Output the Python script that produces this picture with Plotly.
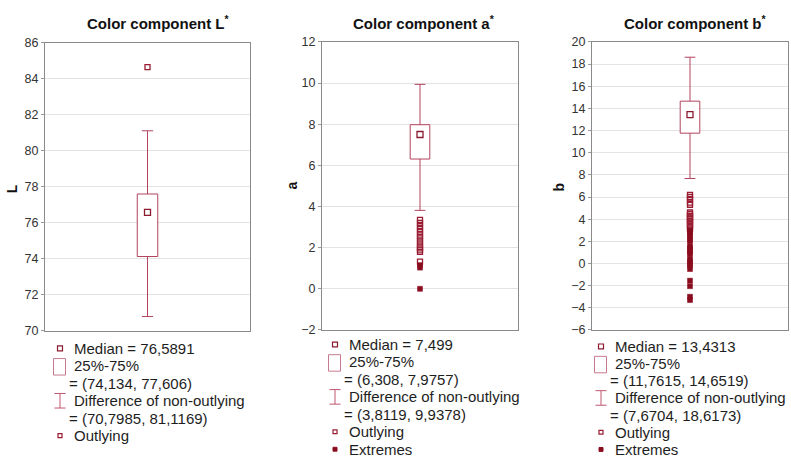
import plotly.graph_objects as go

# ---------------- data ----------------
components = ["L", "a", "b"]
titles = ["Color component L<sup>*</sup>", "Color component a<sup>*</sup>", "Color component b<sup>*</sup>"]
medians = [76.5891, 7.499, 13.4313]
q1 = [74.134, 6.308, 11.7615]
q3 = [77.606, 7.9757, 14.6519]
whisker_low = [70.7985, 3.8119, 7.6704]
whisker_high = [81.1169, 9.9378, 18.6173]

outliers_L = [84.65]
extremes_L = []
outliers_a = [3.35, 3.2, 3.05, 2.9, 2.75, 2.6, 2.45, 2.3, 2.15, 2.0, 1.9, 1.8, 1.32]
extremes_a = [1.15, 1.03, 0.0]
outliers_b = [6.2, 6.0, 5.8, 5.5, 5.3, 4.6, 4.45, 4.3, 4.15, 4.0, 3.85, 3.7, 3.5, 3.3, 3.15]
extremes_b = [3.0, 2.85, 2.7, 2.5, 2.2, 2.05, 1.6, 1.4, 1.2, 1.0, 0.85, 0.4, 0.2, 0.0,
              -0.2, -0.5, -1.55, -2.05, -3.0, -3.3]
outliers = [outliers_L, outliers_a, outliers_b]
extremes = [extremes_L, extremes_a, extremes_b]

y_ranges = [[70, 86], [-2, 12], [-6, 20]]
y_dtick = 2

# ---------------- style / layout ----------------
W, H = 791, 464
FONT = "Liberation Sans, Arial, sans-serif"
BOX_COL = "#b3435e"
MED_COL = "#8c1b2f"
OUT_COL = "#9a1c33"
EXT_COL = "#8a0d1e"
TXT_COL = "#1e1e1e"

# plot-area pixel boxes (x0, x1, ytop, ybottom)
panels_px = [(45, 250, 37, 334), (322, 518, 36, 333), (592, 788, 36, 333)]
title_cx = [158, 424, 695]
ylabel_pos = [(12, 188), (292, 184), (559, 186)]
legend_cfg = [  # marker x, first row y, row step
    (60, 352, 18.0),
    (335, 348, 18.0),
    (601, 350, 17.7),
]

def px(x):
    return x / W

def py(y):
    return 1 - y / H

def fmt(v):
    return str(v).replace(".", ",")

BW = 0.1    # half box width in x units
CW = 0.055  # half cap width

fig = go.Figure()
annotations = []
shapes = []

for i in range(3):
    xa = "x" if i == 0 else f"x{i+1}"
    ya = "y" if i == 0 else f"y{i+1}"
    # box
    fig.add_trace(go.Scatter(
        x=[-BW, BW, BW, -BW, -BW], y=[q1[i], q1[i], q3[i], q3[i], q1[i]],
        mode="lines", line=dict(color=BOX_COL, width=1), fill="toself",
        fillcolor="white", xaxis=xa, yaxis=ya, showlegend=False, hoverinfo="skip"))
    # whiskers
    fig.add_trace(go.Scatter(
        x=[0, 0, None, 0, 0, None, -CW, CW, None, -CW, CW],
        y=[whisker_low[i], q1[i], None, q3[i], whisker_high[i], None,
           whisker_low[i], whisker_low[i], None, whisker_high[i], whisker_high[i]],
        mode="lines", line=dict(color=BOX_COL, width=1),
        xaxis=xa, yaxis=ya, showlegend=False, hoverinfo="skip"))
    # median
    fig.add_trace(go.Scatter(
        x=[0], y=[medians[i]], mode="markers",
        marker=dict(symbol="square-open", size=6, color=MED_COL, line=dict(width=1.3, color=MED_COL)),
        xaxis=xa, yaxis=ya, showlegend=False))
    # outliers
    if outliers[i]:
        fig.add_trace(go.Scatter(
            x=[0] * len(outliers[i]), y=outliers[i], mode="markers",
            marker=dict(symbol="square-open", size=5, color=OUT_COL, line=dict(width=1.3, color=OUT_COL)),
            xaxis=xa, yaxis=ya, showlegend=False))
    if extremes[i]:
        fig.add_trace(go.Scatter(
            x=[0] * len(extremes[i]), y=extremes[i], mode="markers",
            marker=dict(symbol="square", size=5, color=EXT_COL, line=dict(width=0.5, color=EXT_COL)),
            xaxis=xa, yaxis=ya, showlegend=False))

    x0, x1, yt, yb = panels_px[i]
    xkey = "xaxis" if i == 0 else f"xaxis{i+1}"
    ykey = "yaxis" if i == 0 else f"yaxis{i+1}"
    fig.update_layout(**{
        xkey: dict(domain=[px(x0), px(x1)], range=[-1, 1], showgrid=False, zeroline=False,
                   showticklabels=False, ticks="", showline=True, mirror=True,
                   linecolor="#8a8a8a", linewidth=1, anchor=ya, fixedrange=True),
        ykey: dict(domain=[py(yb), py(yt)], range=y_ranges[i], dtick=y_dtick, showgrid=True,
                   gridcolor="#e3e3e3", gridwidth=1, zeroline=False, showline=True, mirror=True,
                   linecolor="#8a8a8a", linewidth=1, ticks="outside", ticklen=3, tickcolor="#9a9a9a",
                   tickfont=dict(family=FONT, size=12.5, color="#333333"), anchor=xa, fixedrange=True),
    })

    # title
    annotations.append(dict(
        x=px(title_cx[i]), y=py(16), xref="paper", yref="paper", showarrow=False,
        text="<b>" + titles[i] + "</b>", font=dict(family=FONT, size=15, color="#111111"),
        xanchor="center", yanchor="middle"))
    # y label
    lx, ly = ylabel_pos[i]
    annotations.append(dict(
        x=px(lx), y=py(ly), xref="paper", yref="paper", showarrow=False, textangle=-90,
        text="<b>" + components[i] + "</b>", font=dict(family=FONT, size=14, color="#111111"),
        xanchor="center", yanchor="middle"))

    # legend block
    mx, r0, step = legend_cfg[i]
    rows_text = [
        (f"Median = {fmt(medians[i])}", 12),
        ("25%-75%", 12),
        (f"= ({fmt(q1[i])}, {fmt(q3[i])})", 7),
        ("Difference of non-outlying", 12),
        (f"= ({fmt(whisker_low[i])}, {fmt(whisker_high[i])})", 7),
        ("Outlying", 12),
    ]
    if extremes[i]:
        rows_text.append(("Extremes", 12))
    for k, (t, off) in enumerate(rows_text):
        annotations.append(dict(
            x=px(mx + off), y=py(r0 + k * step), xref="paper", yref="paper", showarrow=False,
            text=t, font=dict(family=FONT, size=15, color=TXT_COL),
            xanchor="left", yanchor="middle"))
    # icons
    def rect(cx, cy, hw, hh, line, fill="rgba(0,0,0,0)", lw=1):
        shapes.append(dict(type="rect", xref="paper", yref="paper",
                           x0=px(cx - hw), x1=px(cx + hw), y0=py(cy + hh), y1=py(cy - hh),
                           line=dict(color=line, width=lw), fillcolor=fill))
    def line(xa_, ya_, xb_, yb_, col):
        shapes.append(dict(type="line", xref="paper", yref="paper",
                           x0=px(xa_), x1=px(xb_), y0=py(ya_), y1=py(yb_),
                           line=dict(color=col, width=1)))
    rect(mx, r0, 2.5, 2.5, MED_COL, lw=1.2)
    rect(mx - 0.5, r0 + step + 1, 6, 8.5, "#c77a8e")
    cy = r0 + 3 * step
    line(mx, cy - 7.5, mx, cy + 7.5, "#c0566f")
    line(mx - 5.5, cy - 7.5, mx + 5.5, cy - 7.5, "#c0566f")
    line(mx - 5.5, cy + 7.5, mx + 5.5, cy + 7.5, "#c0566f")
    rect(mx, r0 + 5 * step, 2, 2, OUT_COL, lw=1.2)
    if extremes[i]:
        rect(mx, r0 + 6 * step, 2, 2, EXT_COL, fill=EXT_COL, lw=1)

fig.update_layout(
    width=W, height=H, margin=dict(l=0, r=0, t=0, b=0),
    paper_bgcolor="white", plot_bgcolor="white",
    annotations=annotations, shapes=shapes, showlegend=False,
    font=dict(family=FONT),
)

fig.write_html(
    "out.html",
    config={"displayModeBar": False},
    post_script="document.body.style.margin='0';document.body.style.overflow='hidden';",
)
